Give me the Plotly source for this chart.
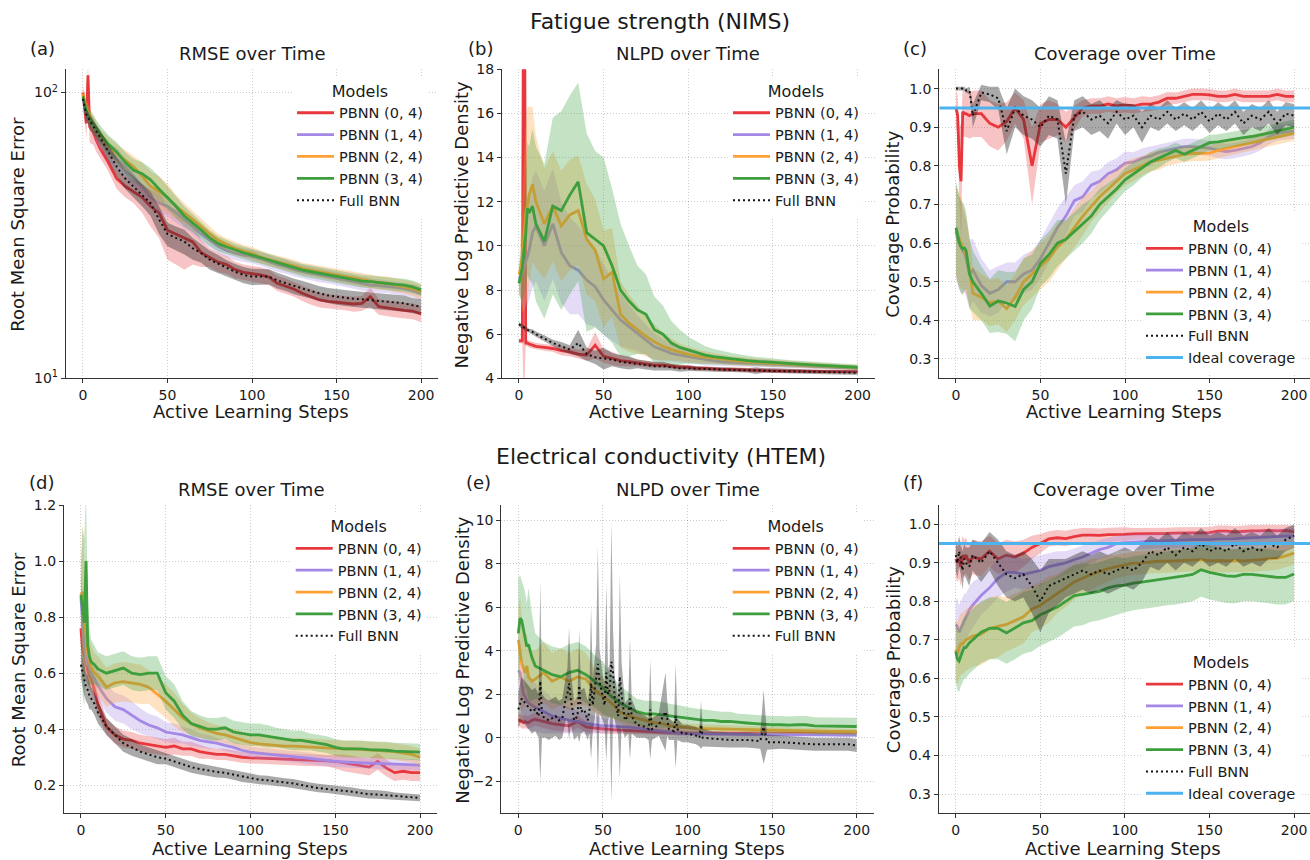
import plotly.graph_objects as go

# ---------------- data ----------------
STEPS = [0, 1, 2, 3, 4, 5, 6, 8, 10,
         15, 20, 25, 30, 35, 40, 45, 50,
         55, 60, 65, 70, 75, 80, 85, 90, 95, 100,
         105, 110, 115, 120, 125, 130, 135, 140, 145, 150,
         155, 160, 165, 170, 175, 180, 185, 190, 195, 200]

MODELS = ["PBNN (0, 4)", "PBNN (1, 4)", "PBNN (2, 4)", "PBNN (3, 4)", "Full BNN"]
IDEAL_COVERAGE = 0.95

# (a) RMSE, NIMS
RMSE_NIMS_P04 = [100, 88, 78, 115, 76, 74, 73, 68, 64,
                 57, 50, 47, 45, 43, 40, 38, 33,
                 32, 31, 30, 27.5, 26.5, 25.5, 25, 24, 23.5, 23.3,
                 23, 22.6, 21.5, 21, 20.5, 19.8, 19.3, 18.8, 18.6, 18.5,
                 18.4, 18.2, 18.3, 19.3, 17.8, 17.6, 17.5, 17.3, 17.2, 16.8]
RMSE_NIMS_P04_SD = [6, 8, 9, 12, 9, 8, 7, 6, 5,
                    4, 4, 4, 4, 5, 6, 7, 7,
                    7, 7, 5, 3, 2, 2, 1.8, 1.6, 1.5, 1.5,
                    1.5, 1.4, 1.3, 1.3, 1.2, 1.2, 1.2, 1.1, 1.1, 1.1,
                    1.1, 1.1, 1.1, 1.5, 1.1, 1.1, 1.1, 1.1, 1.1, 1.1]
RMSE_NIMS_P14 = [96, 90, 85, 82, 80, 78, 77, 72, 68,
                 63, 59, 55, 51, 47, 43, 41, 40,
                 38, 36, 34, 32, 30.5, 29, 28, 27.4, 27, 26.7,
                 26.2, 25.6, 25, 24.6, 24, 23.6, 23.3, 23, 22.7, 22.4,
                 22, 21.8, 21.5, 21.2, 21.1, 21, 20.8, 20.6, 20.3, 19.8]
RMSE_NIMS_P14_SD = [5, 5, 5, 5, 5, 5, 5, 5, 4,
                    4, 5, 4, 4, 3.5, 3, 3, 3,
                    3, 2.5, 2, 2, 1.8, 1.6, 1.5, 1.5, 1.5, 1.5,
                    1.4, 1.4, 1.4, 1.4, 1.3, 1.3, 1.3, 1.3, 1.2, 1.2,
                    1.2, 1.2, 1.2, 1.2, 1.1, 1.1, 1.1, 1.1, 1.1, 1.1]
RMSE_NIMS_P24 = [99, 92, 88, 85, 83, 80, 78, 74, 70,
                 65, 61, 58, 55, 51, 47, 45, 43,
                 40, 38, 36, 34, 32, 30.4, 29.4, 28.5, 27.9, 27.4,
                 26.6, 26, 25.6, 25.2, 24.7, 24.2, 23.9, 23.6, 23.3, 23,
                 22.7, 22.4, 22.1, 21.8, 21.6, 21.5, 21.2, 21, 20.6, 20.1]
RMSE_NIMS_P24_SD = [5, 6, 6, 6, 6, 6, 6, 5, 5,
                    5, 5, 5, 5, 6, 6, 6, 5,
                    4, 3, 2.5, 2, 1.8, 1.6, 1.5, 1.5, 1.4, 1.4,
                    1.4, 1.3, 1.3, 1.3, 1.3, 1.2, 1.2, 1.2, 1.2, 1.2,
                    1.2, 1.2, 1.2, 1.2, 1.2, 1.2, 1.2, 1.2, 1.2, 1.2]
RMSE_NIMS_P34 = [97, 90, 86, 83, 81, 79, 78, 75, 72,
                 66, 62, 57, 53.5, 52, 49.5, 46, 43,
                 40, 37, 35, 33, 31, 29.6, 28.8, 28.1, 27.5, 27,
                 26.5, 26, 25.4, 24.9, 24.4, 23.9, 23.6, 23.3, 23, 22.7,
                 22.4, 22.1, 21.9, 21.8, 21.6, 21.5, 21.3, 21.2, 20.9, 20.4]
RMSE_NIMS_P34_SD = [5, 6, 6, 6, 6, 6, 5, 5, 5,
                    5, 5, 5, 5, 5, 5, 5, 4,
                    3.5, 3, 2.5, 2.2, 2, 1.8, 1.6, 1.5, 1.4, 1.4,
                    1.3, 1.3, 1.3, 1.2, 1.2, 1.2, 1.2, 1.2, 1.1, 1.1,
                    1.1, 1.1, 1.1, 1.1, 1.1, 1.1, 1.1, 1.1, 1.1, 1.0]
RMSE_NIMS_FULL = [95, 88, 84, 82, 80, 78, 76, 73, 70,
                  62, 55, 50, 46.8, 44, 41, 36, 32,
                  31, 30.1, 28.5, 27.4, 26, 25.2, 24.3, 23.6, 23, 22.7,
                  22.7, 22.7, 22, 21.5, 21, 20.6, 20.2, 19.8, 19.5, 19.3,
                  19.1, 19, 18.9, 18.8, 18.6, 18.5, 18.4, 18.3, 18, 17.8]
RMSE_NIMS_FULL_SD = [4, 4, 4, 4, 4, 4, 4, 4, 4,
                     4, 4, 4, 4, 4, 4, 4, 3,
                     3, 3, 2.5, 2, 2, 1.8, 1.6, 1.5, 1.5, 1.5,
                     1.4, 1.4, 1.4, 1.3, 1.3, 1.3, 1.2, 1.2, 1.2, 1.2,
                     1.2, 1.2, 1.2, 1.2, 1.2, 1.2, 1.2, 1.2, 1.1, 1.1]

# (b) NLPD, NIMS
NLPD_NIMS_P04 = [5.7, 5.7, 5.7, 30, 5.6, 5.6, 5.55, 5.5, 5.45,
                 5.4, 5.35, 5.25, 5.2, 5.1, 5.05, 5.5, 5.0,
                 4.9, 4.8, 4.75, 4.7, 4.65, 4.6, 4.6, 4.55, 4.5, 4.5,
                 4.45, 4.45, 4.42, 4.4, 4.4, 4.38, 4.37, 4.35, 4.35, 4.34,
                 4.33, 4.32, 4.32, 4.31, 4.3, 4.3, 4.3, 4.3, 4.3, 4.3]
NLPD_NIMS_P04_SD = [0.1, 0.1, 0.15, 27, 0.15, 0.15, 0.15, 0.15, 0.15,
                    0.15, 0.15, 0.2, 0.2, 0.2, 0.25, 0.6, 0.3,
                    0.3, 0.25, 0.2, 0.15, 0.15, 0.12, 0.12, 0.1, 0.1, 0.1,
                    0.1, 0.1, 0.1, 0.1, 0.1, 0.1, 0.1, 0.1, 0.1, 0.1,
                    0.1, 0.1, 0.1, 0.1, 0.08, 0.08, 0.08, 0.08, 0.08, 0.08]
NLPD_NIMS_P14 = [8.5, 8.6, 8.8, 9.0, 9.3, 9.5, 9.8, 10.6, 10.9,
                 10.0, 11.0, 9.7, 9.1, 8.9, 8.45, 8.15, 7.55,
                 7.1, 6.64, 6.34, 6.04, 5.73, 5.43, 5.28, 5.13, 5.05, 4.98,
                 4.9, 4.83, 4.79, 4.75, 4.72, 4.7, 4.69, 4.68, 4.66, 4.63,
                 4.62, 4.6, 4.58, 4.57, 4.55, 4.53, 4.5, 4.48, 4.46, 4.45]
NLPD_NIMS_P14_SD = [0.5, 1, 1.5, 2, 2, 2.2, 2.3, 2.5, 2.5,
                    2.5, 2.5, 2.3, 2.2, 2, 2, 1.8, 1.6,
                    1.4, 1.2, 1, 0.8, 0.7, 0.6, 0.5, 0.4, 0.35, 0.3,
                    0.25, 0.25, 0.22, 0.2, 0.2, 0.18, 0.18, 0.18, 0.16, 0.15,
                    0.15, 0.14, 0.14, 0.13, 0.13, 0.12, 0.12, 0.12, 0.11, 0.1]
NLPD_NIMS_P24 = [8.7, 9.0, 9.5, 10.5, 11.5, 11.8, 12.3, 12.8, 12.0,
                 11.0, 11.8, 10.9, 11.4, 11.6, 10.3, 9.8, 8.5,
                 8.8, 6.9, 6.5, 6.2, 5.9, 5.65, 5.45, 5.3, 5.18, 5.08,
                 5.0, 4.95, 4.9, 4.85, 4.8, 4.78, 4.75, 4.72, 4.7, 4.68,
                 4.66, 4.64, 4.62, 4.6, 4.58, 4.56, 4.54, 4.52, 4.5, 4.48]
NLPD_NIMS_P24_SD = [0.5, 1.5, 2.5, 3.5, 4, 4.5, 4, 3.5, 3,
                    2.5, 2.5, 2.5, 2.5, 2.5, 2.5, 2.3, 2.2,
                    2, 1.5, 1.3, 1.1, 0.9, 0.8, 0.6, 0.5, 0.4, 0.35,
                    0.3, 0.28, 0.25, 0.22, 0.2, 0.2, 0.18, 0.18, 0.17, 0.16,
                    0.15, 0.15, 0.14, 0.14, 0.13, 0.13, 0.12, 0.12, 0.12, 0.12]
NLPD_NIMS_P34 = [8.3, 8.6, 9.0, 9.8, 10.5, 11.7, 11.5, 11.8, 11.0,
                 10.2, 11.8, 11.6, 12.3, 12.9, 10.6, 10.3, 10.0,
                 9.1, 8.0, 7.5, 7.1, 6.9, 6.2, 6.0, 5.6, 5.4, 5.28,
                 5.15, 5.05, 4.98, 4.93, 4.88, 4.84, 4.8, 4.77, 4.74, 4.71,
                 4.68, 4.66, 4.64, 4.62, 4.6, 4.58, 4.56, 4.54, 4.52, 4.5]
NLPD_NIMS_P34_SD = [0.5, 1, 1.5, 2, 2.5, 3, 3, 3.5, 3.5,
                    3.5, 4, 4.5, 4.5, 4.5, 4.5, 4, 4,
                    3.5, 3, 2.5, 2, 1.8, 1.5, 1.3, 1, 0.8, 0.6,
                    0.5, 0.4, 0.35, 0.3, 0.28, 0.25, 0.22, 0.2, 0.2, 0.18,
                    0.17, 0.16, 0.15, 0.15, 0.14, 0.14, 0.13, 0.13, 0.12, 0.12]
NLPD_NIMS_FULL = [6.45, 6.4, 6.35, 6.3, 6.25, 6.2, 6.15, 6.1, 6.0,
                  5.8, 5.6, 5.45, 5.3, 5.6, 5.1, 4.95, 4.9,
                  4.85, 4.75, 4.7, 4.65, 4.6, 4.55, 4.55, 4.5, 4.45, 4.45,
                  4.43, 4.42, 4.4, 4.4, 4.38, 4.37, 4.36, 4.35, 4.35, 4.35,
                  4.33, 4.32, 4.31, 4.3, 4.29, 4.28, 4.27, 4.26, 4.25, 4.25]
NLPD_NIMS_FULL_SD = [0.1, 0.1, 0.1, 0.1, 0.1, 0.1, 0.1, 0.12, 0.12,
                     0.15, 0.15, 0.2, 0.2, 0.6, 0.3, 0.3, 0.5,
                     0.3, 0.3, 0.3, 0.2, 0.2, 0.2, 0.2, 0.15, 0.15, 0.12,
                     0.1, 0.1, 0.1, 0.1, 0.1, 0.1, 0.1, 0.15, 0.1, 0.1,
                     0.1, 0.1, 0.1, 0.1, 0.1, 0.1, 0.1, 0.1, 0.1, 0.1]

# (c) Coverage, NIMS
COV_NIMS_P04 = [0.95, 0.93, 0.8, 0.76, 0.94, 0.935, 0.935, 0.93, 0.935,
                0.935, 0.91, 0.9, 0.915, 0.95, 0.92, 0.8, 0.91,
                0.92, 0.92, 0.9, 0.925, 0.95, 0.955, 0.955, 0.96, 0.955, 0.958,
                0.955, 0.96, 0.96, 0.965, 0.975, 0.975, 0.98, 0.985, 0.985, 0.984,
                0.98, 0.98, 0.985, 0.98, 0.98, 0.98, 0.98, 0.985, 0.98, 0.98]
COV_NIMS_P04_SD = [0.05, 0.05, 0.1, 0.15, 0.06, 0.06, 0.06, 0.06, 0.06,
                   0.06, 0.06, 0.06, 0.05, 0.04, 0.05, 0.1, 0.05,
                   0.05, 0.04, 0.04, 0.03, 0.02, 0.02, 0.02, 0.02, 0.02, 0.02,
                   0.02, 0.02, 0.018, 0.018, 0.016, 0.015, 0.015, 0.015, 0.015, 0.015,
                   0.015, 0.015, 0.015, 0.015, 0.015, 0.015, 0.015, 0.015, 0.015, 0.015]
COV_NIMS_P14 = [0.63, 0.61, 0.6, 0.59, 0.58, 0.575, 0.56, 0.52, 0.53,
                0.49, 0.47, 0.48, 0.5, 0.5, 0.52, 0.53, 0.56,
                0.6, 0.64, 0.67, 0.71, 0.72, 0.75, 0.76, 0.78, 0.79, 0.807,
                0.81, 0.82, 0.825, 0.835, 0.84, 0.845, 0.85, 0.85, 0.848, 0.846,
                0.84, 0.837, 0.84, 0.845, 0.85, 0.86, 0.875, 0.885, 0.888, 0.89]
COV_NIMS_P14_SD = [0.12, 0.12, 0.12, 0.12, 0.11, 0.1, 0.1, 0.09, 0.08,
                   0.07, 0.06, 0.06, 0.05, 0.05, 0.05, 0.05, 0.05,
                   0.05, 0.05, 0.05, 0.04, 0.04, 0.035, 0.03, 0.03, 0.03, 0.03,
                   0.025, 0.025, 0.025, 0.02, 0.02, 0.02, 0.02, 0.02, 0.02, 0.02,
                   0.02, 0.02, 0.02, 0.02, 0.02, 0.02, 0.02, 0.02, 0.02, 0.02]
COV_NIMS_P24 = [0.63, 0.62, 0.61, 0.6, 0.59, 0.58, 0.57, 0.53, 0.47,
                0.46, 0.445, 0.45, 0.43, 0.46, 0.5, 0.52, 0.54,
                0.56, 0.59, 0.61, 0.64, 0.67, 0.695, 0.72, 0.74, 0.76, 0.78,
                0.79, 0.8, 0.81, 0.815, 0.82, 0.825, 0.83, 0.832, 0.833, 0.833,
                0.84, 0.845, 0.85, 0.855, 0.86, 0.865, 0.87, 0.875, 0.88, 0.885]
COV_NIMS_P24_SD = [0.12, 0.12, 0.12, 0.12, 0.11, 0.11, 0.1, 0.09, 0.07,
                   0.06, 0.06, 0.06, 0.06, 0.06, 0.06, 0.06, 0.06,
                   0.06, 0.06, 0.05, 0.05, 0.05, 0.04, 0.04, 0.035, 0.03, 0.03,
                   0.03, 0.025, 0.025, 0.025, 0.02, 0.02, 0.02, 0.02, 0.02, 0.02,
                   0.02, 0.02, 0.02, 0.02, 0.02, 0.02, 0.02, 0.02, 0.02, 0.02]
COV_NIMS_P34 = [0.64, 0.62, 0.6, 0.59, 0.585, 0.587, 0.58, 0.52, 0.5,
                0.47, 0.437, 0.45, 0.445, 0.436, 0.48, 0.5, 0.548,
                0.57, 0.6, 0.61, 0.63, 0.65, 0.67, 0.7, 0.72, 0.74, 0.764,
                0.78, 0.795, 0.81, 0.82, 0.83, 0.84, 0.83, 0.84, 0.85, 0.86,
                0.862, 0.866, 0.87, 0.873, 0.876, 0.88, 0.885, 0.89, 0.895, 0.9]
COV_NIMS_P34_SD = [0.12, 0.12, 0.12, 0.12, 0.12, 0.11, 0.1, 0.09, 0.08,
                   0.07, 0.07, 0.08, 0.08, 0.09, 0.08, 0.07, 0.06,
                   0.06, 0.06, 0.05, 0.05, 0.05, 0.045, 0.04, 0.035, 0.03, 0.03,
                   0.03, 0.025, 0.025, 0.025, 0.02, 0.02, 0.02, 0.02, 0.02, 0.02,
                   0.02, 0.02, 0.02, 0.02, 0.02, 0.02, 0.02, 0.02, 0.02, 0.02]
COV_NIMS_FULL = [1.0, 1.0, 1.0, 1.0, 1.0, 1.0, 0.995, 0.995, 0.93,
                 0.99, 0.985, 0.975, 0.89, 0.95, 0.93, 0.92, 0.9,
                 0.93, 0.92, 0.78, 0.93, 0.94, 0.92, 0.93, 0.91, 0.94, 0.92,
                 0.93, 0.9, 0.93, 0.92, 0.94, 0.92, 0.935, 0.92, 0.94, 0.915,
                 0.935, 0.92, 0.94, 0.91, 0.93, 0.92, 0.94, 0.91, 0.935, 0.93]
COV_NIMS_FULL_SD = [0.005, 0.005, 0.005, 0.005, 0.005, 0.005, 0.005, 0.01, 0.03,
                    0.02, 0.02, 0.03, 0.06, 0.05, 0.05, 0.05, 0.05,
                    0.05, 0.05, 0.08, 0.04, 0.04, 0.04, 0.04, 0.04, 0.03, 0.04,
                    0.03, 0.04, 0.03, 0.03, 0.03, 0.03, 0.03, 0.03, 0.03, 0.03,
                    0.03, 0.03, 0.03, 0.03, 0.03, 0.03, 0.03, 0.03, 0.03, 0.03]

# (d) RMSE, HTEM
RMSE_HTEM_P04 = [0.76, 0.68, 0.66, 0.63, 0.61, 0.59, 0.58, 0.54, 0.49,
                 0.41, 0.38, 0.365, 0.36, 0.35, 0.345, 0.34, 0.335,
                 0.34, 0.33, 0.33, 0.32, 0.315, 0.31, 0.31, 0.305, 0.3, 0.298,
                 0.297, 0.295, 0.293, 0.292, 0.291, 0.29, 0.29, 0.288, 0.287, 0.285,
                 0.28, 0.275, 0.27, 0.265, 0.285, 0.262, 0.245, 0.25, 0.245, 0.245]
RMSE_HTEM_P04_SD = [0.08, 0.08, 0.07, 0.06, 0.05, 0.05, 0.05, 0.04, 0.04,
                    0.03, 0.03, 0.03, 0.03, 0.03, 0.03, 0.03, 0.03,
                    0.03, 0.025, 0.025, 0.025, 0.02, 0.02, 0.02, 0.02, 0.02, 0.02,
                    0.02, 0.02, 0.02, 0.02, 0.02, 0.02, 0.02, 0.02, 0.02, 0.025,
                    0.03, 0.03, 0.03, 0.03, 0.03, 0.03, 0.03, 0.03, 0.03, 0.03]
RMSE_HTEM_P14 = [0.87, 0.76, 0.69, 0.65, 0.63, 0.62, 0.6, 0.58, 0.555,
                 0.51, 0.48, 0.47, 0.45, 0.43, 0.415, 0.405, 0.39,
                 0.385, 0.38, 0.37, 0.36, 0.355, 0.35, 0.342, 0.335, 0.325, 0.318,
                 0.315, 0.312, 0.31, 0.306, 0.303, 0.3, 0.296, 0.292, 0.288, 0.285,
                 0.283, 0.281, 0.28, 0.279, 0.278, 0.277, 0.276, 0.275, 0.274, 0.272]
RMSE_HTEM_P14_SD = [0.1, 0.1, 0.08, 0.06, 0.05, 0.05, 0.05, 0.05, 0.05,
                    0.05, 0.05, 0.05, 0.05, 0.045, 0.04, 0.04, 0.035,
                    0.035, 0.03, 0.03, 0.025, 0.025, 0.02, 0.02, 0.02, 0.02, 0.02,
                    0.02, 0.02, 0.02, 0.02, 0.02, 0.02, 0.02, 0.02, 0.02, 0.02,
                    0.02, 0.02, 0.02, 0.02, 0.02, 0.02, 0.02, 0.02, 0.02, 0.02]
RMSE_HTEM_P24 = [0.88, 0.89, 0.8, 0.72, 0.67, 0.64, 0.62, 0.6, 0.59,
                 0.55, 0.565, 0.57, 0.565, 0.56, 0.55, 0.525, 0.5,
                 0.47, 0.44, 0.42, 0.405, 0.395, 0.385, 0.38, 0.37, 0.36, 0.352,
                 0.348, 0.345, 0.343, 0.34, 0.34, 0.338, 0.337, 0.335, 0.333, 0.332,
                 0.33, 0.33, 0.328, 0.327, 0.325, 0.322, 0.32, 0.315, 0.31, 0.3]
RMSE_HTEM_P24_SD = [0.12, 0.25, 0.2, 0.12, 0.1, 0.08, 0.08, 0.07, 0.07,
                    0.07, 0.07, 0.07, 0.07, 0.07, 0.06, 0.06, 0.06,
                    0.06, 0.05, 0.04, 0.035, 0.03, 0.03, 0.03, 0.03, 0.03, 0.03,
                    0.03, 0.03, 0.03, 0.03, 0.03, 0.03, 0.03, 0.03, 0.03, 0.03,
                    0.03, 0.03, 0.03, 0.03, 0.03, 0.03, 0.03, 0.03, 0.03, 0.03]
RMSE_HTEM_P34 = [0.88, 0.82, 0.78, 1.0, 0.7, 0.66, 0.64, 0.63, 0.615,
                 0.6, 0.61, 0.618, 0.6, 0.595, 0.6, 0.6, 0.53,
                 0.5, 0.45, 0.42, 0.41, 0.4, 0.4, 0.405, 0.39, 0.385, 0.38,
                 0.38, 0.375, 0.37, 0.365, 0.36, 0.36, 0.355, 0.35, 0.345, 0.335,
                 0.33, 0.33, 0.33, 0.327, 0.327, 0.325, 0.322, 0.32, 0.32, 0.318]
RMSE_HTEM_P34_SD = [0.1, 0.3, 0.3, 0.25, 0.15, 0.1, 0.08, 0.07, 0.06,
                    0.06, 0.06, 0.06, 0.06, 0.06, 0.06, 0.06, 0.06,
                    0.06, 0.05, 0.045, 0.04, 0.04, 0.04, 0.04, 0.04, 0.04, 0.04,
                    0.04, 0.04, 0.035, 0.035, 0.035, 0.035, 0.03, 0.03, 0.03, 0.03,
                    0.03, 0.03, 0.03, 0.03, 0.03, 0.03, 0.03, 0.03, 0.03, 0.03]
RMSE_HTEM_FULL = [0.63, 0.6, 0.57, 0.55, 0.54, 0.52, 0.51, 0.49, 0.46,
                  0.41, 0.38, 0.35, 0.335, 0.32, 0.31, 0.3, 0.295,
                  0.285, 0.275, 0.265, 0.258, 0.252, 0.248, 0.244, 0.238, 0.23, 0.225,
                  0.22, 0.218, 0.213, 0.21, 0.207, 0.2, 0.195, 0.19, 0.187, 0.185,
                  0.18, 0.177, 0.172, 0.168, 0.167, 0.165, 0.162, 0.16, 0.157, 0.155]
RMSE_HTEM_FULL_SD = [0.05, 0.05, 0.05, 0.05, 0.05, 0.05, 0.04, 0.04, 0.04,
                     0.03, 0.03, 0.03, 0.03, 0.025, 0.025, 0.025, 0.02,
                     0.02, 0.02, 0.02, 0.02, 0.02, 0.02, 0.018, 0.018, 0.018, 0.018,
                     0.016, 0.016, 0.016, 0.015, 0.015, 0.015, 0.015, 0.015, 0.015, 0.015,
                     0.015, 0.015, 0.015, 0.015, 0.015, 0.015, 0.012, 0.012, 0.012, 0.012]

# (e) NLPD, HTEM
NLPD_HTEM_P04 = [0.8, 0.8, 0.75, 0.7, 0.75, 0.7, 0.7, 0.8, 0.85,
                 0.75, 0.65, 0.6, 0.55, 0.75, 0.5, 0.45, 0.4,
                 0.38, 0.35, 0.33, 0.3, 0.28, 0.25, 0.25, 0.23, 0.22, 0.2,
                 0.2, 0.2, 0.2, 0.2, 0.2, 0.2, 0.2, 0.2, 0.2, 0.2,
                 0.2, 0.22, 0.22, 0.22, 0.22, 0.23, 0.23, 0.23, 0.24, 0.25]
NLPD_HTEM_P04_SD = [0.3, 0.3, 0.3, 0.3, 0.3, 0.3, 0.3, 0.3, 0.3,
                    0.3, 0.3, 0.3, 0.3, 0.3, 0.25, 0.2, 0.2,
                    0.2, 0.15, 0.15, 0.12, 0.12, 0.1, 0.1, 0.1, 0.1, 0.1,
                    0.1, 0.1, 0.1, 0.1, 0.1, 0.1, 0.1, 0.1, 0.1, 0.1,
                    0.08, 0.08, 0.08, 0.08, 0.08, 0.08, 0.08, 0.08, 0.08, 0.08]
NLPD_HTEM_P14 = [3.1, 3.0, 2.5, 2.0, 1.9, 1.7, 1.6, 1.5, 1.4,
                 1.2, 1.0, 0.9, 0.8, 0.75, 0.65, 0.6, 0.55,
                 0.55, 0.5, 0.5, 0.45, 0.4, 0.35, 0.3, 0.25, 0.22, 0.2,
                 0.2, 0.19, 0.18, 0.18, 0.17, 0.17, 0.16, 0.16, 0.15, 0.15,
                 0.15, 0.14, 0.14, 0.14, 0.13, 0.13, 0.13, 0.12, 0.12, 0.12]
NLPD_HTEM_P14_SD = [1.5, 1.5, 1.4, 1.3, 1.2, 1.2, 1.2, 1.2, 1.1,
                    1.0, 0.8, 0.7, 0.6, 0.5, 0.5, 0.4, 0.35,
                    0.3, 0.3, 0.25, 0.2, 0.2, 0.15, 0.15, 0.12, 0.12, 0.1,
                    0.1, 0.1, 0.1, 0.1, 0.1, 0.1, 0.1, 0.1, 0.1, 0.1,
                    0.08, 0.08, 0.08, 0.08, 0.08, 0.08, 0.08, 0.08, 0.08, 0.08]
NLPD_HTEM_P24 = [4.5, 4.0, 3.4, 3.2, 3.0, 3.3, 2.8, 2.6, 2.7,
                 3.0, 2.6, 2.8, 2.6, 2.8, 2.7, 2.2, 1.9,
                 1.6, 1.2, 1.0, 0.9, 0.8, 0.7, 0.65, 0.55, 0.5, 0.45,
                 0.43, 0.42, 0.41, 0.4, 0.4, 0.39, 0.38, 0.37, 0.36, 0.35,
                 0.34, 0.33, 0.32, 0.31, 0.31, 0.3, 0.3, 0.3, 0.29, 0.28]
NLPD_HTEM_P24_SD = [1.5, 2.5, 2.2, 1.8, 1.6, 1.5, 1.4, 1.4, 1.3,
                    1.4, 1.3, 1.3, 1.3, 1.3, 1.2, 1.0, 0.9,
                    0.7, 0.5, 0.45, 0.4, 0.35, 0.3, 0.3, 0.25, 0.25, 0.2,
                    0.2, 0.2, 0.18, 0.18, 0.17, 0.17, 0.16, 0.16, 0.15, 0.15,
                    0.15, 0.15, 0.14, 0.14, 0.14, 0.13, 0.13, 0.13, 0.13, 0.13]
NLPD_HTEM_P34 = [4.8, 5.5, 5.4, 5.0, 4.5, 4.2, 4.3, 3.7, 3.3,
                 3.1, 2.9, 2.8, 3.0, 3.1, 2.9, 2.6, 2.3,
                 1.9, 1.6, 1.4, 1.2, 1.1, 1.1, 1.05, 1.0, 0.95, 0.9,
                 0.85, 0.8, 0.8, 0.75, 0.75, 0.7, 0.68, 0.65, 0.62, 0.6,
                 0.6, 0.58, 0.6, 0.6, 0.55, 0.55, 0.55, 0.55, 0.55, 0.52]
NLPD_HTEM_P34_SD = [2.5, 2.0, 1.8, 2.0, 2.2, 2.0, 2.6, 2.0, 1.5,
                    1.3, 1.3, 1.3, 1.3, 1.3, 1.3, 1.2, 1.2,
                    1.0, 0.8, 0.7, 0.6, 0.6, 0.6, 0.6, 0.55, 0.55, 0.5,
                    0.5, 0.5, 0.45, 0.45, 0.45, 0.4, 0.4, 0.4, 0.4, 0.4,
                    0.4, 0.4, 0.4, 0.4, 0.4, 0.4, 0.4, 0.4, 0.4, 0.4]
# Full BNN in (e) is read on its own, denser set of steps (needle-like spikes)
NLPD_HTEM_FULL_STEPS = [0, 2, 4, 6, 8, 10, 12, 13, 14, 16, 18, 20, 22, 24, 26, 28, 29, 30, 31,
                        33, 35, 36, 37, 39, 41, 42, 43, 44, 46, 47, 48, 50, 51, 52, 53, 54,
                        55, 56, 57, 59, 60, 61, 63, 65, 66, 67, 70, 75, 77, 78, 79, 83, 87,
                        88, 89, 92, 93, 94, 97, 100, 105, 107, 108, 109, 115, 125, 135, 143,
                        145, 147, 155, 165, 175, 185, 195, 200]
NLPD_HTEM_FULL = [1.3, 1.8, 1.6, 1.4, 1.2, 1.3, 1.0, 2.6, 1.0, 0.9, 0.8, 0.9, 1.0, 0.8, 0.9, 1.8, 2.0, 2.5, 1.8,
                  0.8, 1.0, 2.4, 1.2, 1.3, 0.8, 1.2, 2.5, 1.5, 2.8, 3.4, 2.6, 1.8, 1.5, 3.0, 2.0, 2.2,
                  3.5, 3.0, 1.8, 1.0, 2.8, 2.0, 0.8, 1.0, 1.8, 1.0, 0.6, 0.5, 0.4, 1.3, 0.4, 0.6, 1.2,
                  0.9, 0.4, 0.3, 1.0, 0.4, 0.2, 0.2, 0.1, 0.0, 0.6, 0.0, -0.05, -0.1, -0.1, -0.15,
                  0.5, -0.2, -0.2, -0.25, -0.3, -0.3, -0.3, -0.35]
NLPD_HTEM_FULL_SD = [0.8, 1.0, 1.0, 1.0, 1.0, 1.0, 1.0, 4.6, 1.0, 0.9, 0.9, 0.9, 0.9, 0.9, 0.9, 1.0, 1.2, 2.6, 1.2,
                     0.9, 0.9, 2.6, 1.0, 1.0, 0.9, 1.0, 3.5, 1.2, 1.5, 5.4, 1.5, 1.0, 1.0, 4.1, 1.2, 1.2,
                     6.5, 2.0, 1.0, 0.9, 4.7, 1.5, 0.8, 0.8, 2.8, 0.8, 0.6, 0.5, 0.5, 2.3, 0.5, 0.5, 1.8,
                     0.8, 0.5, 0.4, 2.4, 0.5, 0.4, 0.4, 0.4, 0.4, 1.1, 0.4, 0.35, 0.35, 0.35, 0.35,
                     1.7, 0.35, 0.3, 0.3, 0.3, 0.3, 0.3, 0.3]

# (f) Coverage, HTEM
COV_HTEM_P04 = [0.91, 0.9, 0.91, 0.89, 0.92, 0.91, 0.92, 0.9, 0.915,
                0.91, 0.93, 0.91, 0.92, 0.915, 0.925, 0.94, 0.95,
                0.962, 0.965, 0.963, 0.968, 0.972, 0.972, 0.971, 0.973, 0.973, 0.974,
                0.975, 0.975, 0.975, 0.976, 0.976, 0.977, 0.977, 0.978, 0.977, 0.978,
                0.982, 0.982, 0.98, 0.982, 0.983, 0.983, 0.984, 0.983, 0.984, 0.98]
COV_HTEM_P04_SD = [0.05, 0.05, 0.05, 0.05, 0.05, 0.05, 0.045, 0.045, 0.045,
                   0.045, 0.04, 0.04, 0.04, 0.04, 0.035, 0.03, 0.025,
                   0.02, 0.02, 0.02, 0.02, 0.018, 0.018, 0.018, 0.018, 0.018, 0.018,
                   0.015, 0.015, 0.015, 0.015, 0.015, 0.015, 0.015, 0.015, 0.015, 0.015,
                   0.015, 0.015, 0.015, 0.015, 0.015, 0.015, 0.015, 0.015, 0.015, 0.015]
COV_HTEM_P14 = [0.74, 0.735, 0.72, 0.73, 0.74, 0.75, 0.76, 0.778, 0.79,
                0.815, 0.835, 0.86, 0.875, 0.875, 0.87, 0.875, 0.88,
                0.89, 0.895, 0.9, 0.908, 0.915, 0.925, 0.934, 0.94, 0.95, 0.952,
                0.954, 0.955, 0.956, 0.957, 0.958, 0.958, 0.96, 0.96, 0.96, 0.96,
                0.962, 0.962, 0.963, 0.964, 0.965, 0.965, 0.966, 0.967, 0.968, 0.97]
COV_HTEM_P14_SD = [0.07, 0.07, 0.07, 0.07, 0.07, 0.07, 0.06, 0.06, 0.06,
                   0.05, 0.05, 0.05, 0.05, 0.04, 0.04, 0.04, 0.04,
                   0.035, 0.035, 0.03, 0.03, 0.03, 0.025, 0.025, 0.025, 0.02, 0.02,
                   0.02, 0.02, 0.02, 0.02, 0.02, 0.02, 0.02, 0.02, 0.02, 0.02,
                   0.02, 0.02, 0.02, 0.02, 0.02, 0.02, 0.02, 0.02, 0.02, 0.02]
COV_HTEM_P24 = [0.675, 0.665, 0.68, 0.69, 0.69, 0.695, 0.7, 0.705, 0.71,
                0.715, 0.73, 0.735, 0.74, 0.75, 0.76, 0.78, 0.79,
                0.805, 0.82, 0.835, 0.85, 0.86, 0.87, 0.877, 0.885, 0.89, 0.895,
                0.899, 0.9, 0.902, 0.904, 0.904, 0.905, 0.906, 0.908, 0.908, 0.905,
                0.906, 0.905, 0.906, 0.905, 0.906, 0.908, 0.91, 0.912, 0.918, 0.925]
COV_HTEM_P24_SD = [0.08, 0.08, 0.08, 0.08, 0.08, 0.08, 0.08, 0.08, 0.08,
                   0.08, 0.08, 0.08, 0.07, 0.07, 0.07, 0.06, 0.06,
                   0.06, 0.05, 0.05, 0.045, 0.04, 0.04, 0.035, 0.035, 0.03, 0.03,
                   0.03, 0.03, 0.03, 0.03, 0.03, 0.03, 0.03, 0.03, 0.03, 0.03,
                   0.03, 0.03, 0.03, 0.03, 0.03, 0.03, 0.03, 0.03, 0.03, 0.03]
COV_HTEM_P34 = [0.67, 0.65, 0.645, 0.66, 0.67, 0.68, 0.68, 0.692, 0.7,
                0.72, 0.73, 0.73, 0.718, 0.73, 0.744, 0.75, 0.765,
                0.775, 0.785, 0.8, 0.815, 0.818, 0.822, 0.826, 0.835, 0.84, 0.842,
                0.847, 0.85, 0.853, 0.856, 0.86, 0.862, 0.866, 0.87, 0.882, 0.875,
                0.87, 0.866, 0.865, 0.87, 0.87, 0.868, 0.865, 0.862, 0.862, 0.871]
COV_HTEM_P34_SD = [0.08, 0.08, 0.08, 0.08, 0.08, 0.08, 0.08, 0.08, 0.08,
                   0.08, 0.08, 0.08, 0.08, 0.08, 0.08, 0.08, 0.08,
                   0.08, 0.08, 0.08, 0.08, 0.08, 0.075, 0.075, 0.075, 0.075, 0.07,
                   0.07, 0.07, 0.07, 0.07, 0.07, 0.07, 0.07, 0.07, 0.07, 0.07,
                   0.07, 0.07, 0.07, 0.07, 0.07, 0.07, 0.07, 0.07, 0.07, 0.07]
COV_HTEM_FULL = [0.92, 0.9, 0.93, 0.91, 0.88, 0.91, 0.9, 0.89, 0.92,
                 0.9, 0.93, 0.9, 0.87, 0.86, 0.87, 0.84, 0.8,
                 0.84, 0.85, 0.86, 0.87, 0.88, 0.87, 0.88, 0.87, 0.88, 0.89,
                 0.88, 0.9, 0.93, 0.92, 0.94, 0.92, 0.94, 0.93, 0.95, 0.93,
                 0.94, 0.93, 0.95, 0.93, 0.94, 0.93, 0.95, 0.94, 0.96, 0.97]
COV_HTEM_FULL_SD = [0.04, 0.04, 0.04, 0.04, 0.05, 0.04, 0.04, 0.05, 0.04,
                    0.05, 0.05, 0.06, 0.06, 0.06, 0.06, 0.07, 0.08,
                    0.07, 0.06, 0.05, 0.05, 0.05, 0.05, 0.05, 0.05, 0.05, 0.05,
                    0.05, 0.05, 0.04, 0.04, 0.04, 0.04, 0.04, 0.04, 0.04, 0.04,
                    0.04, 0.04, 0.04, 0.04, 0.04, 0.04, 0.04, 0.03, 0.03, 0.03]

# ---------------- style ----------------
W, H = 1310, 860
FONT = "DejaVu Sans"
TXT = "#1a1a1a"
LINE_COLORS = ["#e8383d", "#a488e6", "#ffa035", "#3d9e3d", "#111111"]
BAND_COLORS = ["rgba(232,56,61,0.3)", "rgba(164,136,230,0.3)", "rgba(255,160,53,0.3)",
               "rgba(61,158,61,0.3)", "rgba(40,40,40,0.4)"]
IDEAL_COLOR = "#4cb3ee"


def std_series(*pairs):
    return [(STEPS, m, s) for m, s in pairs]


PANELS = [
    dict(key="a", series=std_series((RMSE_NIMS_P04, RMSE_NIMS_P04_SD), (RMSE_NIMS_P14, RMSE_NIMS_P14_SD),
                                    (RMSE_NIMS_P24, RMSE_NIMS_P24_SD), (RMSE_NIMS_P34, RMSE_NIMS_P34_SD),
                                    (RMSE_NIMS_FULL, RMSE_NIMS_FULL_SD)),
         xpx=(66, 438), ypx=(69.3, 378.3), xr=(-10, 210), ideal=False,
         title="RMSE over Time", ylab="Root Mean Square Error", leg=(292, 76)),
    dict(key="b", series=std_series((NLPD_NIMS_P04, NLPD_NIMS_P04_SD), (NLPD_NIMS_P14, NLPD_NIMS_P14_SD),
                                    (NLPD_NIMS_P24, NLPD_NIMS_P24_SD), (NLPD_NIMS_P34, NLPD_NIMS_P34_SD),
                                    (NLPD_NIMS_FULL, NLPD_NIMS_FULL_SD)),
         xpx=(502, 874.6), ypx=(69.3, 378.3), xr=(-10, 210), ideal=False,
         title="NLPD over Time", ylab="Negative Log Predictive Density", leg=(728, 76)),
    dict(key="c", series=std_series((COV_NIMS_P04, COV_NIMS_P04_SD), (COV_NIMS_P14, COV_NIMS_P14_SD),
                                    (COV_NIMS_P24, COV_NIMS_P24_SD), (COV_NIMS_P34, COV_NIMS_P34_SD),
                                    (COV_NIMS_FULL, COV_NIMS_FULL_SD)),
         xpx=(939.3, 1310), ypx=(69.3, 378.3), xr=(-9.87, 209.4), ideal=True,
         title="Coverage over Time", ylab="Coverage Probability", leg=(1141, 211.6)),
    dict(key="d", series=std_series((RMSE_HTEM_P04, RMSE_HTEM_P04_SD), (RMSE_HTEM_P14, RMSE_HTEM_P14_SD),
                                    (RMSE_HTEM_P24, RMSE_HTEM_P24_SD), (RMSE_HTEM_P34, RMSE_HTEM_P34_SD),
                                    (RMSE_HTEM_FULL, RMSE_HTEM_FULL_SD)),
         xpx=(64, 437), ypx=(505, 813.3), xr=(-10, 210), ideal=False,
         title="RMSE over Time", ylab="Root Mean Square Error", leg=(290.7, 511.6)),
    dict(key="e", series=std_series((NLPD_HTEM_P04, NLPD_HTEM_P04_SD), (NLPD_HTEM_P14, NLPD_HTEM_P14_SD),
                                    (NLPD_HTEM_P24, NLPD_HTEM_P24_SD), (NLPD_HTEM_P34, NLPD_HTEM_P34_SD))
         + [(NLPD_HTEM_FULL_STEPS, NLPD_HTEM_FULL, NLPD_HTEM_FULL_SD)],
         xpx=(501.4, 873.6), ypx=(505, 813.3), xr=(-10, 210), ideal=False,
         title="NLPD over Time", ylab="Negative Log Predictive Density", leg=(727.7, 511.6)),
    dict(key="f", series=std_series((COV_HTEM_P04, COV_HTEM_P04_SD), (COV_HTEM_P14, COV_HTEM_P14_SD),
                                    (COV_HTEM_P24, COV_HTEM_P24_SD), (COV_HTEM_P34, COV_HTEM_P34_SD),
                                    (COV_HTEM_FULL, COV_HTEM_FULL_SD)),
         xpx=(938.8, 1310), ypx=(505, 813.3), xr=(-10, 209.4), ideal=True,
         title="Coverage over Time", ylab="Coverage Probability", leg=(1141, 647.3)),
]

YAXES = {
    "a": dict(type="log", range=[1, 2.0815], tickvals=[10, 100],
              ticktext=["10<sup>1</sup>", "10<sup>2</sup>"]),
    "b": dict(range=[4, 18], tickvals=[4, 6, 8, 10, 12, 14, 16, 18]),
    "c": dict(range=[0.25, 1.05], tickvals=[0.3, 0.4, 0.5, 0.6, 0.7, 0.8, 0.9, 1.0],
              tickformat=".1f"),
    "d": dict(range=[0.1, 1.2], tickvals=[0.2, 0.4, 0.6, 0.8, 1.0, 1.2], tickformat=".1f"),
    "e": dict(range=[-3.47, 10.7], tickvals=[-2, 0, 2, 4, 6, 8, 10],
              ticktext=["\u22122", "0", "2", "4", "6", "8", "10"]),
    "f": dict(range=[0.25, 1.05], tickvals=[0.3, 0.4, 0.5, 0.6, 0.7, 0.8, 0.9, 1.0],
              tickformat=".1f"),
}

fig = go.Figure()
layout = dict(width=W, height=H, margin=dict(l=0, r=0, t=0, b=0),
              paper_bgcolor="white", plot_bgcolor="white",
              font=dict(family=FONT, color=TXT, size=14), showlegend=True)
annotations = []


def px2x(px):
    return px / W


def px2y(py):
    return 1 - py / H


for i, p in enumerate(PANELS):
    n = "" if i == 0 else str(i + 1)
    xa, ya = "x" + n, "y" + n
    lg = "legend" + n
    for j, (steps, mean, sd) in enumerate(p["series"]):
        upper = [m + s for m, s in zip(mean, sd)]
        lower = [m - s for m, s in zip(mean, sd)]
        if p["key"] == "a":
            lower = [max(v, 1.0) for v in lower]
        fig.add_trace(go.Scatter(
            x=list(steps) + list(steps)[::-1], y=upper + lower[::-1], fill="toself",
            fillcolor=BAND_COLORS[j], line=dict(width=0), mode="lines",
            hoverinfo="skip", showlegend=False, xaxis=xa, yaxis=ya))
        if j < 4:
            ln = dict(color=LINE_COLORS[j], width=2.8)
        else:
            ln = dict(color=LINE_COLORS[j], width=2, dash="2px,3px")
        fig.add_trace(go.Scatter(
            x=steps, y=mean, mode="lines", line=ln, name=MODELS[j],
            legend=lg, xaxis=xa, yaxis=ya))
    if p["ideal"]:
        fig.add_trace(go.Scatter(
            x=list(p["xr"]), y=[IDEAL_COVERAGE, IDEAL_COVERAGE], mode="lines",
            line=dict(color=IDEAL_COLOR, width=3), name="Ideal coverage",
            legend=lg, xaxis=xa, yaxis=ya))

    axis_common = dict(showline=True, linecolor="#333333", linewidth=1.2,
                       ticks="outside", ticklen=4, tickwidth=1, tickcolor="#333333",
                       showgrid=True, gridcolor="rgba(0,0,0,0.2)", griddash="1px,2px",
                       gridwidth=1, zeroline=False, automargin=False,
                       tickfont=dict(size=14, color=TXT, family=FONT))
    layout["xaxis" + n] = dict(domain=[px2x(p["xpx"][0]), px2x(p["xpx"][1])],
                               range=list(p["xr"]), tickvals=[0, 50, 100, 150, 200],
                               anchor=ya, **axis_common)
    layout["yaxis" + n] = dict(domain=[px2y(p["ypx"][1]), px2y(p["ypx"][0])],
                               anchor=xa, **YAXES[p["key"]], **axis_common)
    layout[lg] = dict(x=px2x(p["leg"][0]), y=px2y(p["leg"][1]), xanchor="left",
                      yanchor="top", bgcolor="rgba(255,255,255,0.9)", borderwidth=0,
                      font=dict(size=14.5, family=FONT, color=TXT),
                      title=dict(text="Models", side="top center",
                                 font=dict(size=16, family=FONT, color=TXT)),
                      itemwidth=37, tracegroupgap=0)

    cx = (p["xpx"][0] + p["xpx"][1]) / 2
    cy = (p["ypx"][0] + p["ypx"][1]) / 2
    row2 = i >= 3
    annotations.append(dict(text=p["title"], x=px2x(cx), y=px2y(489 if row2 else 54),
                            xref="paper", yref="paper", showarrow=False,
                            xanchor="center", yanchor="middle",
                            font=dict(size=18, family=FONT, color=TXT)))
    annotations.append(dict(text="Active Learning Steps", x=px2x(cx - 1),
                            y=px2y(848 if row2 else 411), xref="paper", yref="paper",
                            showarrow=False, xanchor="center", yanchor="middle",
                            font=dict(size=18, family=FONT, color=TXT)))
    ylx = {0: 18, 1: 461.7, 2: 893}[i % 3]
    annotations.append(dict(text=p["ylab"], x=px2x(ylx), y=px2y(cy + 1), textangle=-90,
                            xref="paper", yref="paper", showarrow=False,
                            xanchor="center", yanchor="middle",
                            font=dict(size=18, family=FONT, color=TXT)))

LETTERS = [("(a)", 42, 48), ("(b)", 480, 48), ("(c)", 915, 48),
           ("(d)", 41.7, 483), ("(e)", 478, 483), ("(f)", 912.5, 483)]
for t, lx, ly in LETTERS:
    annotations.append(dict(text=t, x=px2x(lx), y=px2y(ly), xref="paper", yref="paper",
                            showarrow=False, xanchor="center", yanchor="middle",
                            font=dict(size=18, family=FONT, color=TXT)))

annotations.append(dict(text="Fatigue strength (NIMS)", x=px2x(660), y=px2y(21.7),
                        xref="paper", yref="paper", showarrow=False, xanchor="center",
                        yanchor="middle", font=dict(size=22, family=FONT, color=TXT)))
annotations.append(dict(text="Electrical conductivity (HTEM)", x=px2x(661), y=px2y(456.7),
                        xref="paper", yref="paper", showarrow=False, xanchor="center",
                        yanchor="middle", font=dict(size=22, family=FONT, color=TXT)))

layout["annotations"] = annotations
fig.update_layout(**layout)
fig.write_html("out.html", config={"displayModeBar": False},
               post_script="document.body.style.margin='0';document.body.style.overflow='hidden';")
